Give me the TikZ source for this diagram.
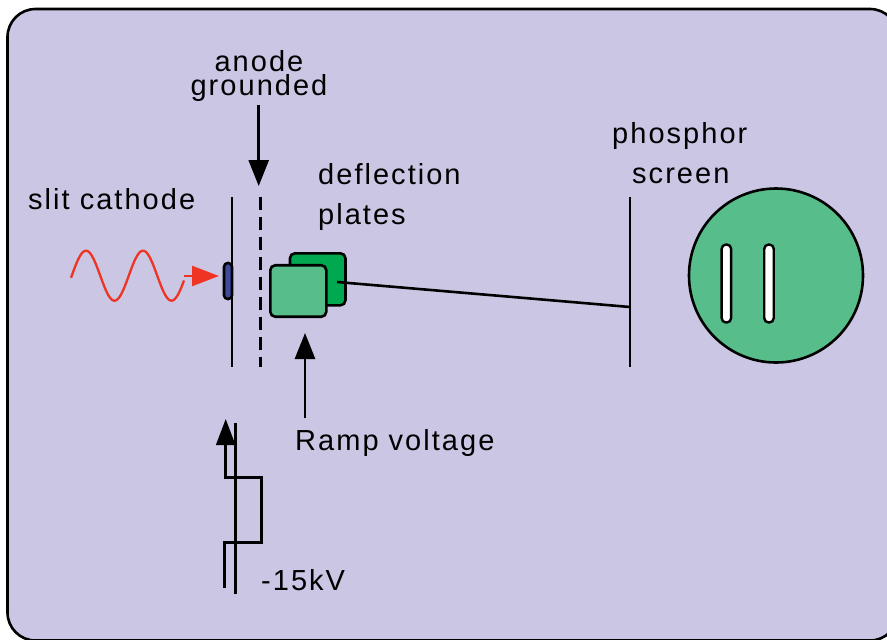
\documentclass[tikz,border=0pt]{standalone}
\usepackage{fontspec}
\setmainfont[LetterSpace=7]{Liberation Sans}
\usetikzlibrary{arrows.meta}
\definecolor{panelcol}{HTML}{CBC6E3}
\definecolor{lightgreen}{HTML}{57BD8A}
\definecolor{darkgreen}{HTML}{00A94F}
\definecolor{slitblue}{HTML}{3F4B9F}
\definecolor{wavered}{HTML}{EE3524}
\tikzset{
    wire/.style={line width=2.6pt, black},
    bigarrow/.style={wire, -{Triangle[length=26pt,width=20pt]}},
    txt/.style={anchor=base west, inner sep=0pt, font=\fontsize{29}{29}\selectfont},
    plate/.style={draw, line width=2.6pt, rounded corners=5pt, inner sep=0pt, outer sep=0pt},
    slit/.style={draw, fill=white, line width=2.4pt, rounded corners=4.4pt, inner sep=0pt, outer sep=0pt,
        minimum width=9.5pt, minimum height=78pt}
}

\begin{document}
\begin{tikzpicture}[x=1pt, y=-1pt]
    \useasboundingbox (0,0) rectangle (887,640);
    \clip (0,0) rectangle (887,640);
    \draw[line width=2.6pt, fill=panelcol, rounded corners=28pt] (7.5,9) rectangle (898,640.5);

    % tube parts
    \coordinate (cathodetop) at (232,197);
    \coordinate (cathodebot) at (232,367);
    \coordinate (anodetop) at (260.4,197);
    \coordinate (anodebot) at (260.4,367);
    \coordinate (screentop) at (630,197);
    \coordinate (screenbot) at (630,367);
    \coordinate (screenhit) at (630,307);
    \coordinate (platehit) at (337,282);

    \node[plate, fill=slitblue, rounded corners=3.8pt, minimum width=8pt, minimum height=36pt] (cathodeslit) at (228,281) {};
    \draw[wire] (cathodetop) -- (cathodebot);
    \draw[wire, dash pattern=on 13pt off 7pt] (anodetop) -- (anodebot);

    \node[plate, fill=darkgreen, minimum width=55.5pt, minimum height=52pt] (backplate) at (317.7,279.3) {};
    \node[plate, fill=lightgreen, minimum width=56pt, minimum height=51.5pt] (frontplate) at (298.3,291) {};
    \draw[wire] (platehit) -- (screenhit);
    \draw[wire] (screentop) -- (screenbot);

    \node[draw, circle, fill=lightgreen, line width=2.6pt, minimum size=174pt, inner sep=0pt, outer sep=0pt] (screen) at (776,275.5) {};
    \node[slit] (spotleft) at (726.4,283.5) {};
    \node[slit] (spotright) at (769,283.5) {};

    % light coming in
    \coordinate (waveend) at (184,276);
    \coordinate (wavetip) at (219,276);
    \draw[wavered, line width=2.3pt] plot[domain=71:184, samples=90, smooth] (\x,{275.7-25*sin(6.3158*(\x-71.75))});
    \draw[wavered, line width=2.3pt, -{Triangle[length=27pt,width=20pt]}] (waveend) -- (wavetip);

    % arrows
    \coordinate (anodefrom) at (258.7,105);
    \coordinate (anodeto) at (258.7,186);
    \coordinate (rampfrom) at (305,418);
    \coordinate (rampto) at (305,333);
    \draw[bigarrow] (anodefrom) -- (anodeto);
    \draw[bigarrow] (rampfrom) -- (rampto);

    % supply lead
    \coordinate (leadtop) at (235.3,423);
    \coordinate (leadbot) at (235.3,594);
    \coordinate (stepstart) at (224.5,588);
    \coordinate (steptip) at (225.7,419);
    \draw[wire] (leadtop) -- (leadbot);
    \draw[wire, -{Triangle[length=26pt,width=19pt]}] (stepstart) |- (261.5,542.5) |- (225.7,477.5) -- (steptip);

    % labels
    \node[txt, anchor=base] (anodetxt) at (259,71) {anode};
    \node[txt, anchor=base] (groundedtxt) at (259,95) {grounded};
    \node[txt] (cathodetxt) at (28,209) {slit cathode};
    \node[txt] (deflectiontxt) at (318,184) {deflection};
    \node[txt] (platestxt) at (318,224) {plates};
    \node[txt] (phosphortxt) at (612,143) {phosphor};
    \node[txt] (screentxt) at (632,183) {screen};
    \node[txt] (ramptxt) at (295,450) {Ramp voltage};
    \node[txt] (kvtxt) at (261,590) {-15kV};
\end{tikzpicture}
\end{document}
